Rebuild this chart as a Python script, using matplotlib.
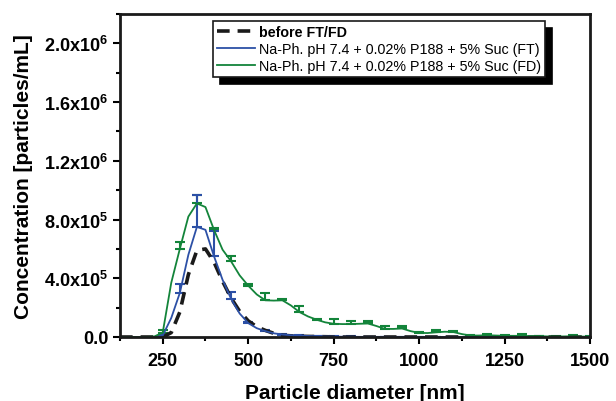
import numpy as np
from matplotlib import pyplot as plt

plt.rcParams['font.family'] = ['Liberation Sans', 'DejaVu Sans']
plt.rcParams['mathtext.fontset'] = 'custom'
plt.rcParams['mathtext.rm'] = 'Liberation Sans:bold'
plt.rcParams['mathtext.default'] = 'rm'

# particle diameter grid [nm]
diam = np.arange(125, 1501, 25)

before = [0, 0, 0, 0, 0, 0, 30e3, 170e3, 425e3, 590e3, 600e3, 510e3, 380e3, 265e3, 175e3,
          110e3, 70e3, 45e3, 25e3, 12e3, 8e3, 5e3, 4e3, 3e3, 2e3, 1e3, 0, 0, 0, 0,
          0, 0, 0, 0, 0, 0, 0, 0, 0, 0, 0, 0, 0, 0, 0, 0, 0, 0, 0, 0,
          0, 0, 0, 0, 0, 0]

ft = [0, 0, 0, 0, 0, 10e3, 130e3, 300e3, 560e3, 750e3, 730e3, 550e3, 390e3, 260e3, 160e3,
      95e3, 60e3, 40e3, 25e3, 17e3, 12e3, 10e3, 7e3, 5e3, 3e3, 3e3, 2e3, 2e3, 1e3, 1e3,
      1e3, 1e3, 0, 0, 0, 0, 0, 0, 0, 0, 0, 0, 0, 0, 0, 0, 0, 0, 0, 0,
      0, 0, 0, 0, 0, 0]

fd = [0, 0, 0, 0, 3e3, 30e3, 370e3, 600e3, 820e3, 910e3, 885e3, 730e3, 595e3, 515e3, 420e3,
      350e3, 290e3, 250e3, 248e3, 250e3, 215e3, 170e3, 140e3, 118e3, 100e3, 90e3, 88e3, 88e3, 90e3, 92e3,
      75e3, 55e3, 55e3, 58e3, 40e3, 28e3, 27e3, 32e3, 36e3, 34e3, 20e3, 10e3, 10e3, 12e3, 10e3,
      8e3, 8e3, 8e3, 6e3, 6e3, 4e3, 3e3, 4e3, 5e3, 3e3, 2e3]

# upper error bars, every 50 nm
err_x = np.arange(250, 1501, 50)
ft_err = [5e3, 60e3, 220e3, 170e3, 47e3, 10e3, 10e3, 5e3, 3e3, 3e3, 2e3, 2e3, 2e3, 2e3,
          2e3, 2e3, 2e3, 2e3, 2e3, 2e3, 2e3, 2e3, 2e3, 2e3, 2e3, 2e3]
fd_err = [20e3, 45e3, 60e3, 15e3, 40e3, 8e3, 50e3, 12e3, 42e3, 5e3, 32e3, 20e3, 16e3, 17e3,
          19e3, 4e3, 18e3, 9e3, 4e3, 6e3, 3e3, 10e3, 3e3, 2e3, 9e3, 2e3]

blue = '#2c50a6'
green = '#13843a'

fig = plt.figure(figsize=(6.16, 4.02), dpi=100)
ax = fig.add_axes([120 / 616, 1 - 338 / 402, 470 / 616, 323 / 402])

idx = [list(diam).index(v) for v in err_x]
fd_at = [fd[i] for i in idx]
ft_at = [ft[i] for i in idx]

ax.errorbar(err_x, fd_at, yerr=[np.zeros(len(fd_err)), fd_err], fmt='none', ecolor=green,
            elinewidth=1.5, capsize=3.5, capthick=1.5)
ax.errorbar(err_x, ft_at, yerr=[np.zeros(len(ft_err)), ft_err], fmt='none', ecolor=blue,
            elinewidth=1.5, capsize=3.5, capthick=1.5)

ax.plot(diam, before, color='#1a1a1a', lw=2.6, ls=(0, (3.5, 2.2)), label='before FT/FD')
ax.plot(diam, ft, color=blue, lw=1.3, label='Na-Ph. pH 7.4 + 0.02% P188 + 5% Suc (FT)')
ax.plot(diam, fd, color=green, lw=1.3, label='Na-Ph. pH 7.4 + 0.02% P188 + 5% Suc (FD)')

ax.set_xlim(125, 1500)
ax.set_ylim(0, 2.2e6)
ax.set_xticks([250, 500, 750, 1000, 1250, 1500])
ax.set_xticks([125, 375, 625, 875, 1125, 1375], minor=True)
yt = [0, 4e5, 8e5, 1.2e6, 1.6e6, 2.0e6]
ylab = ['0.0', r'4.0x10$^{5}$', r'8.0x10$^{5}$', r'1.2x10$^{6}$', r'1.6x10$^{6}$', r'2.0x10$^{6}$']
ax.set_yticks(yt)
ax.set_yticklabels(ylab)
ax.set_yticks([2e5, 6e5, 1.0e6, 1.4e6, 1.8e6, 2.2e6], minor=True)

ax.tick_params(which='both', direction='out', width=1.5, labelsize=13)
ax.tick_params(which='major', length=5)
ax.tick_params(which='minor', length=3)
ax.tick_params(axis='x', pad=6)
for lbl in ax.get_xticklabels() + ax.get_yticklabels():
    lbl.set_fontweight('bold')
for s in ax.spines.values():
    s.set_linewidth(2)
    s.set_color('#1a1a1a')

ax.set_xlabel('Particle diameter [nm]', fontsize=15, fontweight='bold', labelpad=10)
ax.set_ylabel('Concentration [particles/mL]', fontsize=15, fontweight='bold', labelpad=8)

leg = ax.legend(loc='upper left', bbox_to_anchor=(0.198, 0.978), borderaxespad=0,
                fontsize=10.3, fancybox=False, framealpha=1, edgecolor='#1a1a1a',
                shadow={'color': 'black', 'alpha': 1, 'ox': 5, 'oy': -5},
                handlelength=2.6, handletextpad=0.3, borderpad=0.3, labelspacing=0.2)
leg.get_frame().set_linewidth(1.2)
leg.get_texts()[0].set_fontweight('bold')

plt.savefig('out.png', dpi=100)
